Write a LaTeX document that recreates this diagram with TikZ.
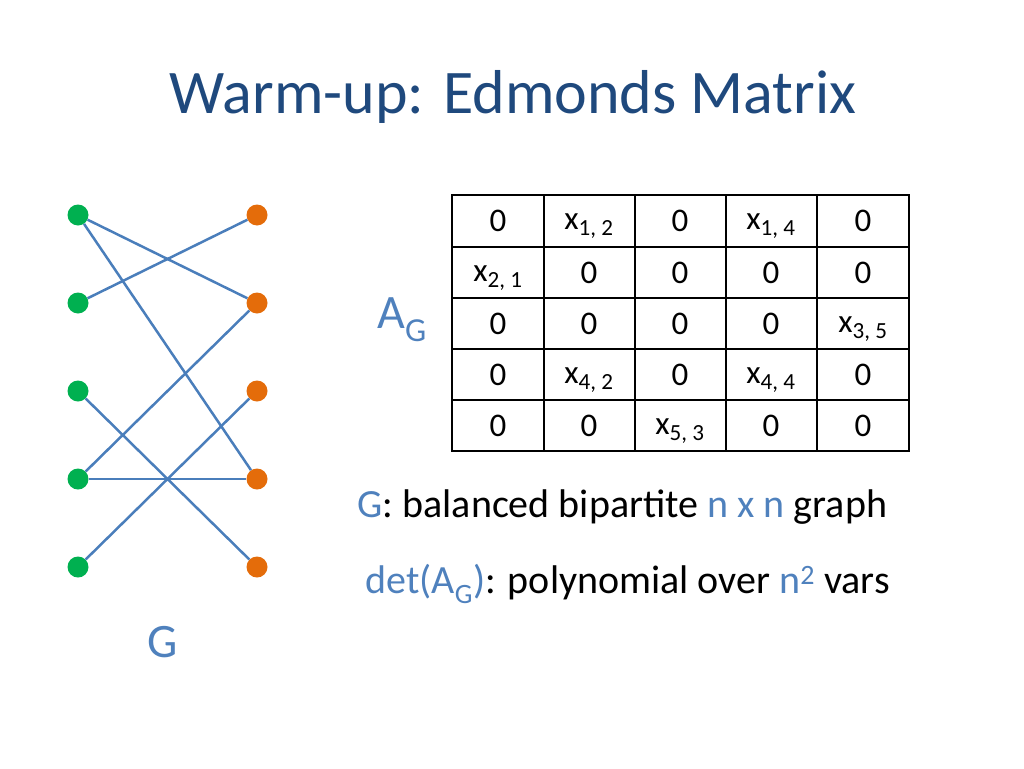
\documentclass[tikz,border=0pt]{standalone}
\usepackage{fontspec}
\setmainfont{Carlito}
\definecolor{ttl}{HTML}{1F497D}
\definecolor{acc}{HTML}{4F81BD}
\definecolor{gr}{HTML}{00B050}
\definecolor{org}{HTML}{E46C0A}
\definecolor{edge}{HTML}{4A7EBB}
\begin{document}
\begin{tikzpicture}[x=1pt,y=-1pt,
 lv/.style={circle,fill=gr,inner sep=0,minimum size=21},
 rv/.style={circle,fill=org,inner sep=0,minimum size=21},
 ed/.style={edge,line width=2.5},
 ent/.style={font=\fontsize{33}{36}\selectfont}]
\useasboundingbox (0,0) rectangle (1024,768);
\node[ttl,font=\fontsize{62}{72}\selectfont] (title) at (513,97) {Warm-up: Edmonds Matrix};
\foreach \i/\y in {1/215,2/303,3/391,4/479,5/567}{
 \node[lv] (l\i) at (78,\y) {};
 \node[rv] (r\i) at (257,\y) {};}
\draw[ed] (l1)--(r2); \draw[ed] (l1)--(r4);
\draw[ed] (l2)--(r1); \draw[ed] (l3)--(r5);
\draw[ed] (l4)--(r2); \draw[ed] (l4)--(r4);
\draw[ed] (l5)--(r3);
\node[acc,font=\fontsize{48}{56}\selectfont] (g) at (163,642) {G};
\node[acc,font=\fontsize{48}{56}\selectfont] (ag) at (402,320) {A\textsubscript{G}};
\draw[line width=1.2] (452,195) rectangle (909,451);
\foreach \x in {544,635,726,817} \draw[line width=1.2] (\x,195)--(\x,451);
\foreach \y in {247,298,349,400} \draw[line width=1.2] (452,\y)--(909,\y);
\newcommand{\xv}[2]{x\textsubscript{#1, #2}}
\node[ent] (m11) at (498,221){0}; \node[ent] (m12) at (589,226){\xv12}; \node[ent] (m13) at (680,221){0}; \node[ent] (m14) at (771,226){\xv14}; \node[ent] (m15) at (863,221){0};
\node[ent] (m21) at (498,278){\xv21}; \node[ent] (m22) at (589,273){0}; \node[ent] (m23) at (680,273){0}; \node[ent] (m24) at (771,273){0}; \node[ent] (m25) at (863,273){0};
\node[ent] (m31) at (498,324){0}; \node[ent] (m32) at (589,324){0}; \node[ent] (m33) at (680,324){0}; \node[ent] (m34) at (771,324){0}; \node[ent] (m35) at (863,329){\xv35};
\node[ent] (m41) at (498,375){0}; \node[ent] (m42) at (589,380){\xv42}; \node[ent] (m43) at (680,375){0}; \node[ent] (m44) at (771,380){\xv44}; \node[ent] (m45) at (863,375){0};
\node[ent] (m51) at (498,426){0}; \node[ent] (m52) at (589,426){0}; \node[ent] (m53) at (680,431){\xv53}; \node[ent] (m54) at (771,426){0}; \node[ent] (m55) at (863,426){0};
\node[anchor=west,font=\fontsize{40}{48}\selectfont] (t1) at (354,507) {\textcolor{acc}{G}: balanced bipartite \textcolor{acc}{n x n} graph};
\node[anchor=west,font=\fontsize{40}{48}\selectfont] (t2) at (362,584) {\textcolor{acc}{det(A\textsubscript{G})}: polynomial over \textcolor{acc}{n\textsuperscript{2}} vars};
\end{tikzpicture}
\end{document}
